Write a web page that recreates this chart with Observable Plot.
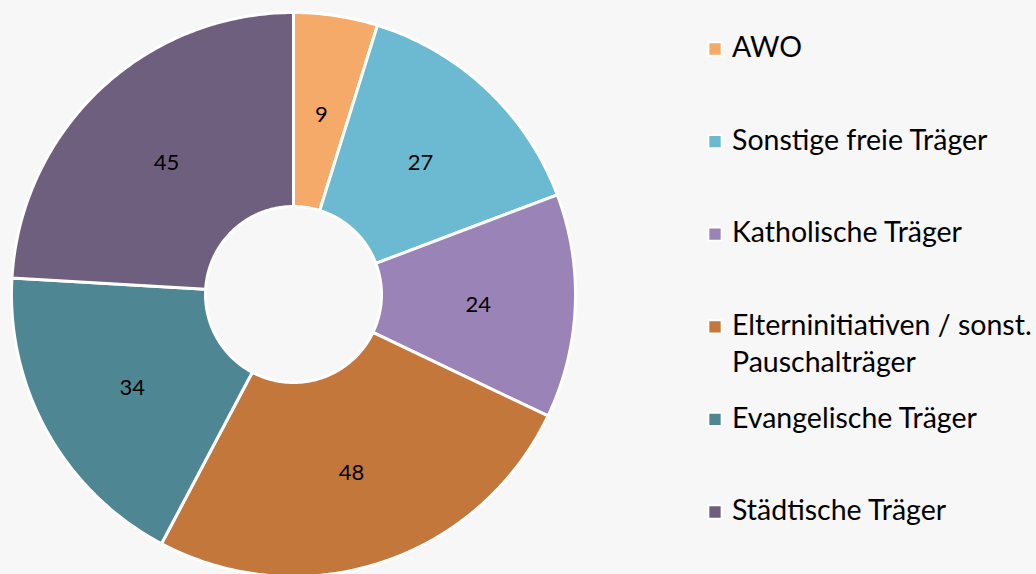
<!DOCTYPE html>
<html>
<head>
<meta charset="utf-8">
<script src="https://cdn.jsdelivr.net/npm/d3@7"></script>
<script src="https://cdn.jsdelivr.net/npm/@observablehq/plot@0.6"></script>
<style>
  html, body { margin: 0; padding: 0; background: #f7f7f7; }
  #chart { width: 1036px; height: 574px; overflow: hidden; }
</style>
</head>
<body>
<div id="chart"></div>
<script>
// ---- data ----
const categories = ["AWO", "Sonstige freie Träger", "Katholische Träger", "Elterninitiativen / sonst. Pauschalträger", "Evangelische Träger", "Städtische Träger"];
const legendLabels = ["AWO", "Sonstige freie Träger", "Katholische Träger", "Elterninitiativen / sonst.\nPauschalträger", "Evangelische Träger", "Städtische Träger"];
const values = [9, 27, 24, 48, 34, 45];
const colors = ["#f6aa6a", "#6bbad1", "#9a83b6", "#c4773b", "#4f8693", "#6e5f7e"];

// ---- layout ----
const W = 1036, H = 574;
const cx = 293, cy = 294, R = 282, r0 = 88;
const font = "Lato, 'Open Sans', sans-serif";

const data = categories.map((c, i) => ({name: c, value: values[i], label: legendLabels[i]}));
const arcs = d3.pie().sort(null).value(d => d.value)(data);

// polygon points for each slice (angles from pie, 0 = top, clockwise)
const pts = [];
arcs.forEach(a => {
  const n = Math.max(8, Math.ceil((a.endAngle - a.startAngle) * 90));
  const ring = [];
  for (let k = 0; k <= n; k++) {
    const t = a.startAngle + (a.endAngle - a.startAngle) * k / n;
    ring.push([cx + R * Math.sin(t), cy - R * Math.cos(t)]);
  }
  for (let k = n; k >= 0; k--) {
    const t = a.startAngle + (a.endAngle - a.startAngle) * k / n;
    ring.push([cx + r0 * Math.sin(t), cy - r0 * Math.cos(t)]);
  }
  ring.push(ring[0]);
  ring.forEach(p => pts.push({name: a.data.name, x: p[0], y: p[1]}));
});

const labelsPos = arcs.map(a => {
  const m = (a.startAngle + a.endAngle) / 2, rm = (R + r0) / 2;
  return {name: a.data.name, value: a.data.value, x: cx + rm * Math.sin(m), y: cy - rm * Math.cos(m)};
});

const legendX = 714.5, legendY0 = 48.5, legendStep = 92.6, lineGap = 37;
const legend = data.map((d, i) => ({name: d.name, x: legendX, y: legendY0 + i * legendStep}));
const legendLines = [];
data.forEach((d, i) => d.label.split("\n").forEach((t, j) =>
  legendLines.push({text: t, x: legendX + 17, y: legendY0 + i * legendStep + j * lineGap})));

const chart = Plot.plot({
  width: W, height: H,
  margin: 0,
  style: {background: "transparent", fontFamily: font, overflow: "visible"},
  x: {domain: [0, W], range: [0, W], axis: null},
  y: {domain: [0, H], range: [0, H], axis: null},
  color: {domain: categories, range: colors},
  marks: [
    Plot.line(pts, {x: "x", y: "y", z: "name", fill: "name", stroke: "white", strokeWidth: 3, strokeLinejoin: "round", curve: "linear"}),
    Plot.text(labelsPos, {x: "x", y: "y", text: d => String(d.value), fontSize: 22, dy: 3, fill: "black"}),
    Plot.dot(legend, {x: "x", y: "y", symbol: "square", r: 7.5, fill: "name", stroke: "white", strokeWidth: 2}),
    Plot.text(legendLines, {x: "x", y: "y", text: "text", textAnchor: "start", lineAnchor: "middle", dy: -1, fontSize: 28.5, fill: "black"})
  ]
});
document.getElementById("chart").appendChild(chart);
</script>
</body>
</html>
